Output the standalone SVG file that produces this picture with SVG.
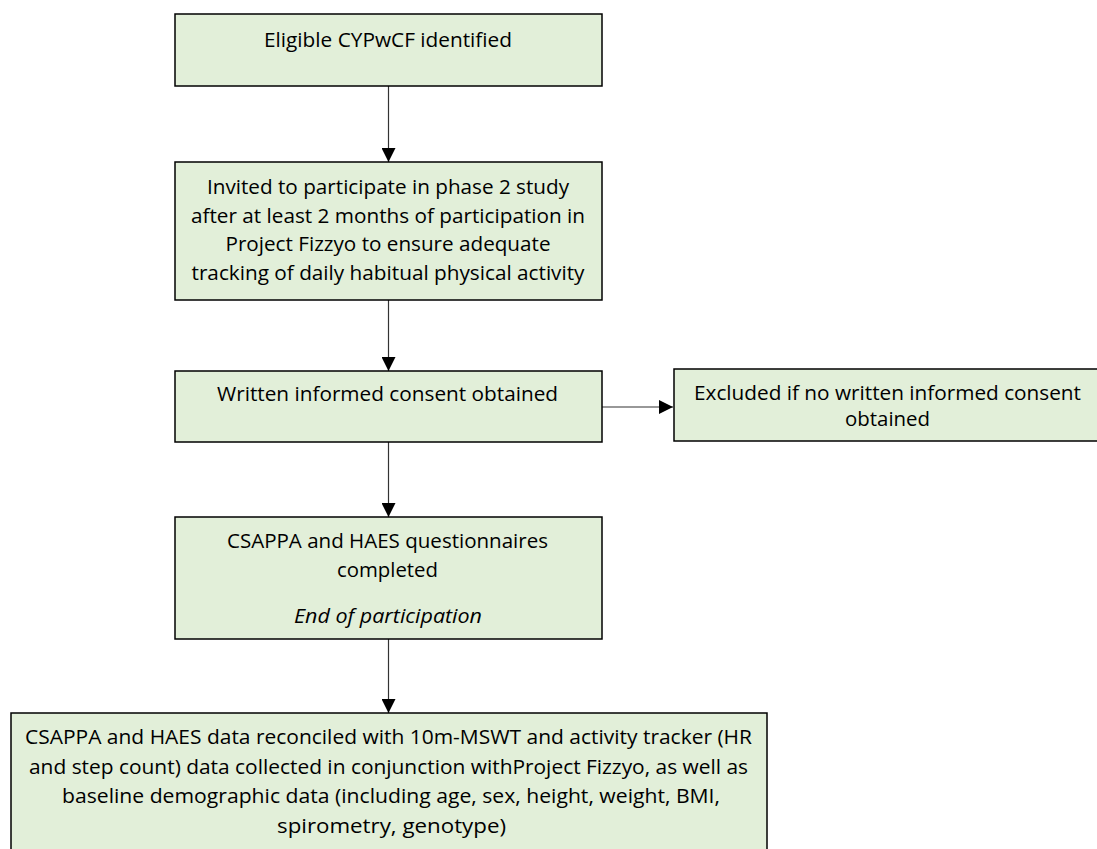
<svg xmlns="http://www.w3.org/2000/svg" width="1097" height="849" viewBox="0 0 1097 849">
<style>
.box{fill:#E2EFD9;stroke:#000;stroke-width:1.5}
.t{font-family:"Open Sans","Noto Sans",sans-serif;font-size:20.5px;fill:#000;text-anchor:middle}
.s{font-size:19.5px}
.i{font-style:italic}
.c{stroke:#333;stroke-width:1.2;fill:none;marker-end:url(#ah)}
</style>
<defs>
<marker id="ah" markerUnits="userSpaceOnUse" markerWidth="14" markerHeight="14" refX="14" refY="7" orient="auto">
<path d="M0,0 L14,7 L0,14 Z" fill="#000"/>
</marker>
</defs>
<rect width="1097" height="849" fill="#fff"/>
<g id="connectors">
<line class="c" x1="388.5" y1="86" x2="388.5" y2="162"/>
<line class="c" x1="388.5" y1="300" x2="388.5" y2="371"/>
<line class="c" x1="602" y1="407" x2="673" y2="407"/>
<line class="c" x1="388.5" y1="442" x2="388.5" y2="517"/>
<line class="c" x1="388.5" y1="639" x2="388.5" y2="713"/>
</g>
<g id="n1">
<rect class="box" x="175" y="14" width="427" height="72"/>
<text class="t" x="388" y="47" textLength="248" lengthAdjust="spacingAndGlyphs">Eligible CYPwCF identified</text>
</g>
<g id="n2">
<rect class="box" x="175" y="162" width="427" height="138"/>
<text class="t" x="388" y="194" textLength="362" lengthAdjust="spacingAndGlyphs">Invited to participate in phase 2 study</text>
<text class="t" x="388" y="222.5" textLength="394" lengthAdjust="spacingAndGlyphs">after at least 2 months of participation in</text>
<text class="t" x="388" y="251" textLength="325" lengthAdjust="spacingAndGlyphs">Project Fizzyo to ensure adequate</text>
<text class="t" x="388" y="280" textLength="393" lengthAdjust="spacingAndGlyphs">tracking of daily habitual physical activity</text>
</g>
<g id="n3">
<rect class="box" x="175" y="371" width="427" height="71"/>
<text class="t" x="387.5" y="401" textLength="341" lengthAdjust="spacingAndGlyphs">Written informed consent obtained</text>
</g>
<g id="n4">
<rect class="box" x="674" y="369" width="430" height="72"/>
<text class="t s" x="887.5" y="400" textLength="387" lengthAdjust="spacingAndGlyphs">Excluded if no written informed consent</text>
<text class="t s" x="887.5" y="426" textLength="85" lengthAdjust="spacingAndGlyphs">obtained</text>
</g>
<g id="n5">
<rect class="box" x="175" y="517" width="427" height="122"/>
<text class="t" x="387.5" y="548" textLength="321" lengthAdjust="spacingAndGlyphs">CSAPPA and HAES questionnaires</text>
<text class="t" x="387.5" y="577" textLength="101" lengthAdjust="spacingAndGlyphs">completed</text>
<text class="t i" x="388" y="623" textLength="188" lengthAdjust="spacingAndGlyphs">End of participation</text>
</g>
<g id="n6">
<rect class="box" x="11" y="713" width="756" height="150"/>
<text class="t" x="388.5" y="744" textLength="727" lengthAdjust="spacingAndGlyphs">CSAPPA and HAES data reconciled with 10m-MSWT and activity tracker (HR</text>
<text class="t" x="388.5" y="773.5" textLength="719" lengthAdjust="spacingAndGlyphs">and step count) data collected in conjunction withProject Fizzyo, as well as</text>
<text class="t" x="391" y="803" textLength="658" lengthAdjust="spacingAndGlyphs">baseline demographic data (including age, sex, height, weight, BMI,</text>
<text class="t" x="391.5" y="832.5" textLength="229" lengthAdjust="spacingAndGlyphs">spirometry, genotype)</text>
</g>
</svg>
